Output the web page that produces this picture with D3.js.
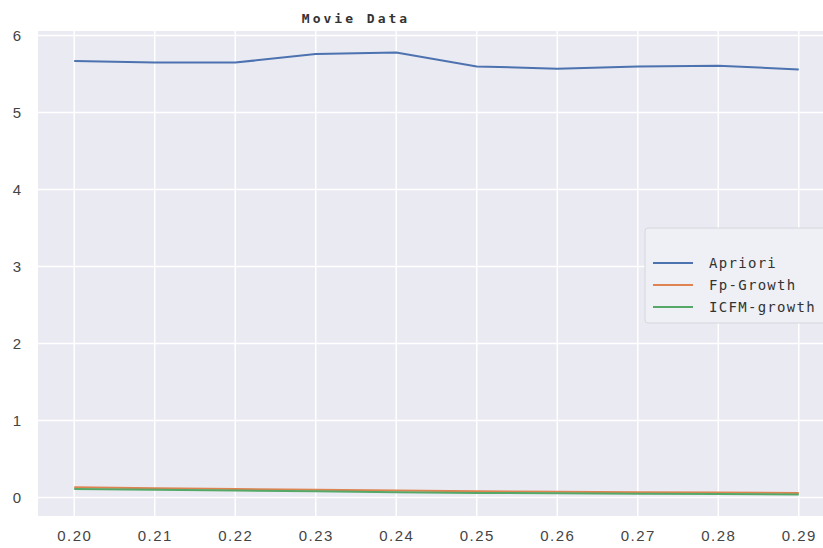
<!DOCTYPE html>
<html><head><meta charset="utf-8">
<script src="https://cdn.jsdelivr.net/npm/d3@7"></script>
<style>body{margin:0;background:#fff}svg{display:block}</style>
</head><body><svg id="c" width="823" height="548"></svg>
<script>
const xValues = [0.20,0.21,0.22,0.23,0.24,0.25,0.26,0.27,0.28,0.29];
const apriori = [5.67,5.65,5.65,5.76,5.78,5.60,5.57,5.60,5.61,5.56];
const fpGrowth = [0.135,0.12,0.11,0.10,0.09,0.08,0.075,0.07,0.065,0.058];
const icfmGrowth = [0.11,0.10,0.09,0.08,0.07,0.06,0.055,0.05,0.045,0.038];
const yTicks = [0,1,2,3,4,5,6];
const seriesNames = ["Apriori","Fp-Growth","ICFM-growth"];
const seriesColors = ["#4c72b0","#dd8452","#55a868"];
const title = "Movie Data";

const svg = d3.select("#c");
const L = 38, T = 31, R = 835, B = 516;
const x = d3.scaleLinear().domain([0.1955, 0.2945]).range([L, R]);
const y = d3.scaleLinear().domain([-0.24, 6.06]).range([B, T]);

svg.append("rect").attr("x", L).attr("y", T).attr("width", R - L).attr("height", B - T).attr("fill", "#eaeaf2");

const g = svg.append("g");
g.selectAll(".vg").data(xValues).join("line")
  .attr("x1", d => x(d)).attr("x2", d => x(d)).attr("y1", T).attr("y2", B)
  .attr("stroke", "#fff").attr("stroke-width", 1.5);
g.selectAll(".hg").data(yTicks).join("line")
  .attr("y1", d => y(d)).attr("y2", d => y(d)).attr("x1", L).attr("x2", R)
  .attr("stroke", "#fff").attr("stroke-width", 1.5);

const xAxis = d3.axisBottom(x).tickValues(xValues).tickFormat(d3.format(".2f")).tickSize(0).tickPadding(14);
const xa = svg.append("g").attr("transform", `translate(0,${B})`).call(xAxis);
xa.select(".domain").remove();
xa.selectAll("text").attr("font-family", "Liberation Sans, Arial, sans-serif").attr("font-size", 15).attr("fill", "#444").attr("letter-spacing", "1.5px");

const yAxis = d3.axisLeft(y).tickValues(yTicks).tickFormat(d3.format("d")).tickSize(0).tickPadding(17);
const ya = svg.append("g").attr("transform", `translate(${L},0)`).call(yAxis);
ya.select(".domain").remove();
ya.selectAll("text").attr("font-family", "Liberation Sans, Arial, sans-serif").attr("font-size", 15).attr("fill", "#444");

const allSeries = [apriori, fpGrowth, icfmGrowth];
const line = d3.line().x((d, i) => x(xValues[i])).y(d => y(d));
allSeries.forEach((s, k) => {
  svg.append("path").datum(s).attr("d", line).attr("fill", "none")
    .attr("stroke", seriesColors[k]).attr("stroke-width", 2);
});

svg.append("text").attr("x", 356).attr("y", 23).attr("text-anchor", "middle")
  .attr("font-family", "DejaVu Sans Mono, monospace").attr("font-size", 13).attr("font-weight", "bold")
  .attr("letter-spacing", "3px").attr("fill", "#333").text(title);

const lg = svg.append("g");
lg.append("rect").attr("x", 645).attr("y", 228).attr("width", 190).attr("height", 95).attr("rx", 3)
  .attr("fill", "#eef0f5").attr("stroke", "#d6d6de").attr("stroke-width", 1);
const ly = [263, 285, 307];
seriesNames.forEach((n, k) => {
  lg.append("line").attr("x1", 653).attr("x2", 693).attr("y1", ly[k]).attr("y2", ly[k])
    .attr("stroke", seriesColors[k]).attr("stroke-width", 2);
  lg.append("text").attr("x", 709).attr("y", ly[k] + 5)
    .attr("font-family", "DejaVu Sans Mono, monospace").attr("font-size", 14)
    .attr("letter-spacing", "1.3px").attr("fill", "#333").text(n);
});
</script></body></html>
